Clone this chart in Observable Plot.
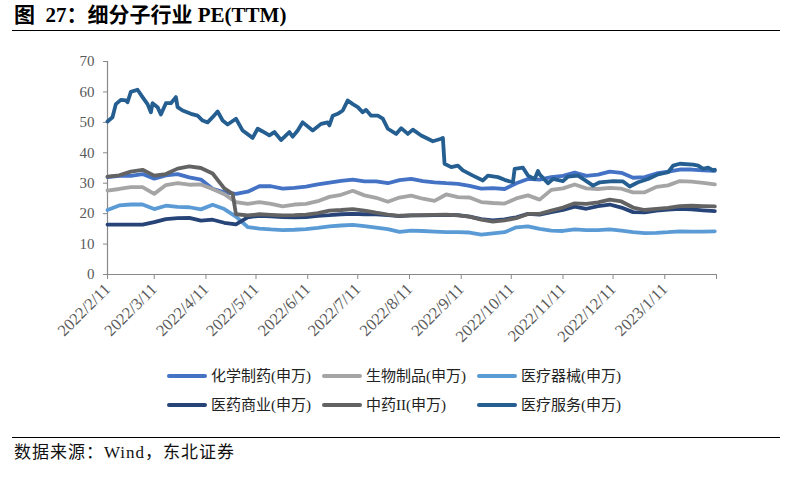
<!DOCTYPE html>
<html><head><meta charset="utf-8">
<script src="https://cdn.jsdelivr.net/npm/d3@7"></script>
<script src="https://cdn.jsdelivr.net/npm/@observablehq/plot@0.6"></script>
<style>
body{margin:0;background:#fff;}
#wrap{position:relative;width:798px;height:481px;overflow:hidden;font-family:"Liberation Serif","Noto Sans CJK SC",serif;background:#fff;}
#title{position:absolute;left:14px;top:3px;font-size:21px;font-weight:bold;white-space:pre;color:#000;line-height:24px;}
.hr{position:absolute;left:12px;width:768px;height:0;border-top:1.5px solid #000;}
#chart{position:absolute;left:0;top:40px;}
.leg{position:absolute;display:flex;align-items:center;font-size:15px;color:#222;white-space:pre;line-height:18px;}
.sw{width:40px;height:4px;border-radius:2px;margin-right:4px;}
#src{position:absolute;left:14px;top:442px;font-size:17px;color:#111;line-height:22px;letter-spacing:1px;}
</style></head>
<body><div id="wrap">
<div id="title">图  27：细分子行业 PE(TTM)</div>
<div class="hr" style="top:30px"></div>
<div id="chart"></div>
<div id="legend"></div>
<div class="hr" style="top:437px"></div>
<div id="src">数据来源：Wind，东北证券</div>
</div>
<script>
// weekly dates used by five of the series
const dates = ["2022-02-11","2022-02-18","2022-02-25","2022-03-04","2022-03-11","2022-03-18","2022-03-25","2022-04-01","2022-04-08","2022-04-15","2022-04-22","2022-04-29","2022-05-06","2022-05-13","2022-05-20","2022-05-27","2022-06-03","2022-06-10","2022-06-17","2022-06-24","2022-07-01","2022-07-08","2022-07-15","2022-07-22","2022-07-29","2022-08-05","2022-08-12","2022-08-19","2022-08-26","2022-09-02","2022-09-09","2022-09-16","2022-09-23","2022-09-30","2022-10-07","2022-10-14","2022-10-21","2022-10-28","2022-11-04","2022-11-11","2022-11-18","2022-11-25","2022-12-02","2022-12-09","2022-12-16","2022-12-23","2022-12-30","2023-01-06","2023-01-13","2023-01-20","2023-01-27","2023-02-03","2023-02-10"];

// 中药II uses the weekly dates plus the day before its step down
const tcmDates = ["2022-02-11","2022-02-18","2022-02-25","2022-03-04","2022-03-11","2022-03-18","2022-03-25","2022-04-01","2022-04-08","2022-04-15","2022-04-22","2022-04-27","2022-04-29","2022-05-06","2022-05-13","2022-05-20","2022-05-27","2022-06-03","2022-06-10","2022-06-17","2022-06-24","2022-07-01","2022-07-08","2022-07-15","2022-07-22","2022-07-29","2022-08-05","2022-08-12","2022-08-19","2022-08-26","2022-09-02","2022-09-09","2022-09-16","2022-09-23","2022-09-30","2022-10-07","2022-10-14","2022-10-21","2022-10-28","2022-11-04","2022-11-11","2022-11-18","2022-11-25","2022-12-02","2022-12-09","2022-12-16","2022-12-23","2022-12-30","2023-01-06","2023-01-13","2023-01-20","2023-01-27","2023-02-03","2023-02-10"];

// denser sampling for the volatile 医疗服务 series
const svcDates = ["2022-02-11","2022-02-14","2022-02-16","2022-02-19","2022-02-22","2022-02-23","2022-02-25","2022-03-01","2022-03-04","2022-03-07","2022-03-09","2022-03-10","2022-03-13","2022-03-15","2022-03-18","2022-03-21","2022-03-24","2022-03-25","2022-03-28","2022-04-02","2022-04-06","2022-04-09","2022-04-12","2022-04-15","2022-04-18","2022-04-21","2022-04-24","2022-04-29","2022-05-03","2022-05-09","2022-05-12","2022-05-15","2022-05-19","2022-05-22","2022-05-26","2022-05-31","2022-06-02","2022-06-05","2022-06-08","2022-06-14","2022-06-19","2022-06-23","2022-06-24","2022-06-26","2022-06-29","2022-07-02","2022-07-05","2022-07-08","2022-07-11","2022-07-14","2022-07-16","2022-07-19","2022-07-23","2022-07-26","2022-07-29","2022-08-03","2022-08-06","2022-08-10","2022-08-13","2022-08-18","2022-08-22","2022-08-25","2022-08-30","2022-08-31","2022-09-01","2022-09-05","2022-09-09","2022-09-12","2022-09-18","2022-09-24","2022-09-27","2022-10-03","2022-10-07","2022-10-12","2022-10-13","2022-10-18","2022-10-21","2022-10-25","2022-10-27","2022-10-28","2022-11-02","2022-11-05","2022-11-11","2022-11-14","2022-11-20","2022-11-23","2022-11-29","2022-12-03","2022-12-11","2022-12-17","2022-12-21","2022-12-26","2023-01-01","2023-01-07","2023-01-13","2023-01-16","2023-01-20","2023-01-28","2023-01-31","2023-02-03","2023-02-06","2023-02-09","2023-02-10"];

const seriesNames = ["化学制药(申万)","生物制品(申万)","医疗器械(申万)","医药商业(申万)","中药II(申万)","医疗服务(申万)"];
const seriesColors = ["#4472C4","#A5A5A5","#5B9BD5","#264478","#636363","#255E91"];

const chemPharma = [32.0,32.4,32.4,33.0,31.5,32.6,33.0,31.9,31.2,28.2,27.0,26.5,27.2,29.0,29.0,28.2,28.5,28.9,29.6,30.2,30.8,31.2,30.6,30.6,30.0,31.0,31.4,30.7,30.3,30.0,29.8,29.1,28.2,28.4,28.1,30.0,31.4,31.2,32.0,32.4,33.5,32.4,32.8,33.8,33.4,31.8,32.0,33.2,33.8,34.5,34.5,34.2,34.1];
const bioProducts = [27.6,28.1,28.7,28.7,26.5,29.4,30.0,29.5,29.6,28.1,26.4,23.8,23.2,23.8,23.2,22.4,23.0,23.2,24.1,25.5,26.2,27.5,26.0,25.2,23.9,25.3,25.9,24.9,24.2,26.3,25.4,25.3,23.8,23.5,23.3,25.0,26.0,24.6,27.8,28.3,29.6,28.3,28.1,28.5,28.2,27.0,27.0,28.8,29.3,30.7,30.5,30.1,29.6];
const medDevices = [21.2,22.7,23.0,23.0,21.5,22.6,22.2,22.1,21.4,22.9,21.5,19.0,15.6,15.1,14.8,14.6,14.7,14.9,15.3,15.8,16.1,16.3,15.9,15.4,14.9,14.0,14.4,14.3,14.1,13.9,13.9,13.8,13.1,13.5,13.9,15.5,15.8,15.0,14.4,14.3,14.8,14.6,14.6,14.8,14.4,13.9,13.6,13.7,13.9,14.2,14.1,14.1,14.2];
const pharmCommerce = [16.4,16.4,16.4,16.4,17.2,18.2,18.5,18.6,17.7,18.0,17.0,16.5,18.8,19.3,19.1,18.9,18.8,18.9,19.3,19.5,19.8,19.9,19.8,19.8,19.5,19.2,19.4,19.4,19.5,19.6,19.5,19.0,18.2,17.8,18.1,18.8,19.9,19.7,20.5,21.2,22.3,21.6,22.5,23.0,22.0,20.5,20.4,21.0,21.3,21.6,21.4,21.1,20.8];
const tcm2 = [32.2,32.6,33.8,34.4,32.5,33.0,34.8,35.5,35.0,33.2,28.3,26.5,19.8,19.4,19.8,19.6,19.4,19.5,19.7,20.2,21.0,21.2,21.5,21.0,20.3,19.7,19.3,19.4,19.5,19.6,19.7,19.4,19.0,18.0,17.4,17.8,18.5,19.9,19.9,21.0,22.0,23.4,23.2,23.7,24.6,24.0,22.0,21.2,21.6,21.9,22.5,22.6,22.5,22.4];
const medServices = [50.3,51.7,56.0,57.4,57.2,56.6,60.0,60.7,58.3,56.0,53.3,56.3,55.0,52.6,56.3,56.3,58.3,55.0,53.9,52.8,52.2,50.6,50.0,51.7,53.6,50.6,49.3,51.2,47.3,44.9,47.9,47.0,45.7,46.8,44.2,46.8,45.3,47.3,50.0,47.3,49.5,50.0,49.0,52.2,52.8,53.9,57.2,56.0,55.0,53.3,54.1,52.2,52.2,51.2,47.9,46.2,48.1,46.2,47.6,45.7,44.6,43.8,44.6,44.9,36.4,35.3,35.8,34.2,32.5,30.9,32.5,32.0,31.1,30.3,34.7,35.1,32.5,31.4,34.0,32.9,30.0,31.4,30.7,32.2,32.5,31.4,29.2,30.3,30.7,30.6,28.9,30.3,31.4,32.9,33.6,35.8,36.4,36.1,35.8,34.7,35.1,34.2,34.4];

const yTicks = [0,10,20,30,40,50,60,70];
const tickDates = ["2022-02-11","2022-03-11","2022-04-11","2022-05-11","2022-06-11","2022-07-11","2022-08-11","2022-09-11","2022-10-11","2022-11-11","2022-12-11","2023-01-11","2023-02-11"];
const tickLabels = ["2022/2/11","2022/3/11","2022/4/11","2022/5/11","2022/6/11","2022/7/11","2022/8/11","2022/9/11","2022/10/11","2022/11/11","2022/12/11","2023/1/11",""];

const allValues = [chemPharma, bioProducts, medDevices, pharmCommerce, tcm2, medServices];
const allDates = [dates, dates, dates, dates, tcmDates, svcDates];
const parse = s => new Date(s + "T00:00:00Z");
const rows = [];
seriesNames.forEach((name, s) => {
  allValues[s].forEach((v, i) => rows.push({series: name, date: parse(allDates[s][i]), value: v}));
});
const labelMap = new Map(tickDates.map((d, i) => [d, tickLabels[i]]));
const tickDateObjs = tickDates.map(parse);
const xStart = tickDateObjs[0], xEnd = tickDateObjs[tickDateObjs.length - 1];

const chart = Plot.plot({
  width: 798,
  height: 330,
  marginLeft: 107,
  marginRight: 82,
  marginTop: 21,
  marginBottom: 96,
  style: {fontFamily: '"Liberation Serif","Noto Sans CJK SC",serif', background: "transparent", color: "#595959"},
  x: {type: "utc", domain: [xStart, xEnd]},
  y: {domain: [0, 70]},
  color: {domain: seriesNames, range: seriesColors},
  marks: [
    Plot.ruleY([0], {stroke: "#898989", strokeWidth: 1.2}),
    Plot.ruleX([xStart], {stroke: "#898989", strokeWidth: 1.2}),
    Plot.axisY({ticks: yTicks, tickSize: 4, tickPadding: 9, fontSize: 15, stroke: "#898989", fill: "#595959", label: null}),
    Plot.axisX({ticks: tickDateObjs, tickSize: 5, tickPadding: 7, tickRotate: -45, fontSize: 16.5, stroke: "#898989", fill: "#595959", label: null,
      tickFormat: d => labelMap.get(d.toISOString().slice(0, 10))}),
    Plot.line(rows, {x: "date", y: "value", z: "series", stroke: "series", strokeWidth: 3.8, strokeLinejoin: "round", strokeLinecap: "round"})
  ]
});
document.getElementById("chart").appendChild(chart);

const legendPos = [[167, 367], [322, 367], [477, 367], [167, 396], [322, 396], [477, 396]];
const legend = document.getElementById("legend");
seriesNames.forEach((name, i) => {
  const item = document.createElement("div");
  item.className = "leg";
  item.style.left = legendPos[i][0] + "px";
  item.style.top = legendPos[i][1] + "px";
  const sw = document.createElement("div");
  sw.className = "sw";
  sw.style.background = seriesColors[i];
  const tx = document.createElement("span");
  tx.textContent = name;
  item.appendChild(sw);
  item.appendChild(tx);
  legend.appendChild(item);
});
</script>
</body></html>
